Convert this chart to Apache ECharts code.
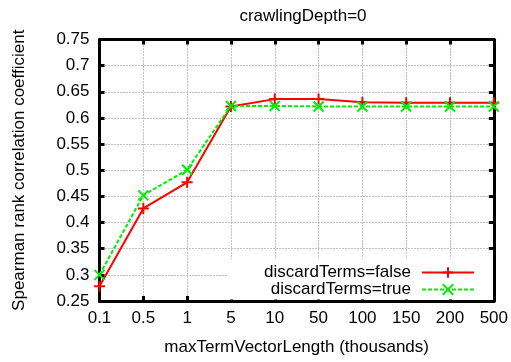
<!DOCTYPE html>
<html>
<head>
<meta charset="utf-8">
<script src="https://cdn.jsdelivr.net/npm/echarts@6/dist/echarts.min.js"></script>
<style>
  html, body { margin: 0; padding: 0; background: #fff; }
  #chart { width: 511px; height: 362px; }
</style>
</head>
<body>
<div id="chart"></div>
<script>
// maxTermVectorLength values (thousands) along the x axis
const categories = ['0.1', '0.5', '1', '5', '10', '50', '100', '150', '200', '500'];
// Spearman rank correlation, crawlingDepth = 0
const discardFalse = [0.278, 0.427, 0.477, 0.622, 0.636, 0.636, 0.630, 0.629, 0.629, 0.629];
const discardTrue  = [0.300, 0.452, 0.501, 0.623, 0.623, 0.622, 0.622, 0.622, 0.622, 0.622];
const seriesNames = ['discardTerms=false', 'discardTerms=true'];
const yMin = 0.25, yMax = 0.75, yStep = 0.05;

const FONT = '"Liberation Sans", Arial, Helvetica, sans-serif';
const FS = 17;

const plusPath = 'path://M0,5L10,5M5,0L5,10';
const crossPath = 'path://M0,0L10,10M0,10L10,0';

const frameLine = { show: true, onZero: false, lineStyle: { color: '#000', width: 3 } };
const innerTick = { show: true, inside: true, length: 5, lineStyle: { color: '#000', width: 3 } };
const gridDots = { show: true, lineStyle: { color: '#888', width: 1, type: [1, 2] } };

const chart = echarts.init(document.getElementById('chart'), null, { renderer: 'canvas' });
chart.setOption({
  animation: false,
  backgroundColor: '#fff',
  textStyle: { fontFamily: FONT },
  title: {
    text: 'crawlingDepth=0',
    left: 298,
    textAlign: 'center',
    top: 3,
    textStyle: { fontFamily: FONT, fontSize: FS, fontWeight: 'normal', color: '#000' }
  },
  grid: { left: 99.5, right: 15, top: 39.5, bottom: 61, containLabel: false },
  legend: {
    data: seriesNames,
    orient: 'vertical',
    align: 'right',
    right: 18,
    top: 259,
    itemWidth: 52,
    itemHeight: 13,
    itemGap: 0,
    padding: [5, 18, 1.5, 36],
    backgroundColor: '#fff',
    selectedMode: false,
    textStyle: { fontFamily: FONT, fontSize: FS, color: '#000', lineHeight: 17, padding: [0, 6, 0, 0] }
  },
  xAxis: [{
    type: 'category',
    data: categories,
    boundaryGap: false,
    position: 'bottom',
    name: 'maxTermVectorLength (thousands)',
    nameLocation: 'middle',
    nameGap: 38,
    nameTextStyle: { fontFamily: FONT, fontSize: FS, color: '#000' },
    axisLine: frameLine,
    axisTick: Object.assign({ interval: 0 }, innerTick),
    axisLabel: { interval: 0, margin: 9, fontFamily: FONT, fontSize: FS, color: '#000' },
    splitLine: Object.assign({ interval: 0 }, gridDots)
  }, {
    type: 'category',
    data: categories,
    boundaryGap: false,
    position: 'top',
    axisLine: frameLine,
    axisTick: Object.assign({ interval: 0 }, innerTick),
    axisLabel: { show: false },
    splitLine: { show: false }
  }],
  yAxis: [{
    type: 'value',
    min: yMin, max: yMax, interval: yStep,
    position: 'left',
    name: 'Spearman rank correlation coefficient',
    nameLocation: 'middle',
    nameGap: 72,
    nameTextStyle: { fontFamily: FONT, fontSize: FS, color: '#000' },
    axisLine: frameLine,
    axisTick: innerTick,
    axisLabel: { margin: 10, fontFamily: FONT, fontSize: FS, color: '#000' },
    splitLine: gridDots
  }, {
    type: 'value',
    min: yMin, max: yMax, interval: yStep,
    position: 'right',
    axisLine: frameLine,
    axisTick: innerTick,
    axisLabel: { show: false },
    splitLine: { show: false }
  }],
  series: [{
    name: seriesNames[0],
    type: 'line',
    data: discardFalse,
    symbol: plusPath,
    symbolSize: 11,
    showAllSymbol: true,
    lineStyle: { color: '#ff0000', width: 2, type: 'solid' },
    itemStyle: { color: '#ff0000', borderColor: '#ff0000', borderWidth: 2 },
    z: 3
  }, {
    name: seriesNames[1],
    type: 'line',
    data: discardTrue,
    symbol: crossPath,
    symbolSize: 10,
    showAllSymbol: true,
    lineStyle: { color: '#00ee00', width: 2, type: [4, 2] },
    itemStyle: { color: '#00ee00', borderColor: '#00ee00', borderWidth: 2 },
    z: 4
  }]
});
</script>
</body>
</html>
